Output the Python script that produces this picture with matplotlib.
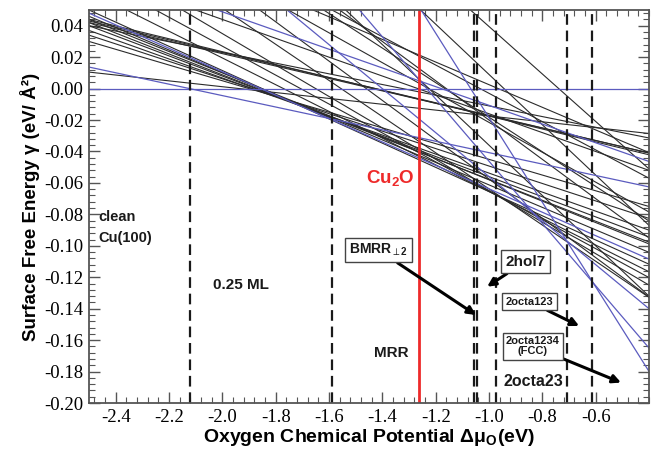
import numpy as np
import matplotlib
matplotlib.use("Agg")
import matplotlib.pyplot as plt
from matplotlib.ticker import MultipleLocator, FixedLocator

plt.rcParams['axes.unicode_minus'] = False
plt.rcParams['mathtext.fontset'] = 'custom'
plt.rcParams['mathtext.rm'] = 'Liberation Sans'
plt.rcParams['mathtext.bf'] = 'Liberation Sans:bold'
plt.rcParams['mathtext.it'] = 'Liberation Sans:italic'

# ---- data: surface free energy lines  gamma(mu) = gamma_ref + slope*(mu - mu_ref)
mu_ref = -2.5
blue_gamma_ref = [0.0, 0.0137, 0.048, 0.0786, 0.385, 0.2508, 0.154]
blue_slope     = [0.0, -0.0363, -0.0745, -0.0595, -0.269, -0.198, -0.140]
black_gamma_ref = [0.0105, 0.040, 0.042, 0.043, 0.044,
                   0.030, 0.034, 0.037, 0.040, 0.042, 0.044, 0.046,
                   0.050, 0.062, 0.073, 0.085, 0.1087, 0.130,
                   0.074, 0.1105, 0.1468, 0.132, 0.1675, 0.204, 0.249, 0.266, 0.121]
black_slope     = [-0.0186, -0.034, -0.0395, -0.040, -0.041,
                   -0.050, -0.0555, -0.0605, -0.064, -0.0665, -0.068, -0.0715,
                   -0.077, -0.085, -0.092, -0.100, -0.115, -0.125,
                   -0.060, -0.072, -0.110, -0.090, -0.125, -0.160, -0.160, -0.151, -0.095]

phase_boundaries = [-2.123, -1.589, -1.058, -1.046, -0.972, -0.706, -0.612]
cu2o_mu = -1.262

x_ticks = [-2.4, -2.2, -2.0, -1.8, -1.6, -1.4, -1.2, -1.0, -0.8, -0.6]
y_ticks = [-0.20, -0.18, -0.16, -0.14, -0.12, -0.10, -0.08, -0.06, -0.04, -0.02, 0.00, 0.02, 0.04]

fig = plt.figure(figsize=(6.57, 4.53), dpi=100)
ax = fig.add_axes([89/657, 1-403/453, 560/657, 393/453])
ax.set_xlim(-2.5, -0.4)
ax.set_ylim(-0.20, 0.05)

mu = np.linspace(-2.5, -0.4, 200)
black_col = '#2b2b2b'
blue_col = '#5b5bbf'
for g, s in zip(black_gamma_ref, black_slope):
    ax.plot(mu, g + s*(mu - mu_ref), color=black_col, lw=0.8)
for g, s in zip(blue_gamma_ref, blue_slope):
    ax.plot(mu, g + s*(mu - mu_ref), color=blue_col, lw=0.9)

for xb in phase_boundaries:
    ax.axvline(xb, color='#1a1a1a', lw=1.6, ls=(0, (4.8, 2.6)))
ax.axvline(cu2o_mu, color='#ee2a2a', lw=2.0)

# ticks
ax.xaxis.set_major_locator(FixedLocator(x_ticks))
ax.yaxis.set_major_locator(FixedLocator(y_ticks))
ax.xaxis.set_minor_locator(MultipleLocator(0.04))
ax.yaxis.set_minor_locator(MultipleLocator(0.004))
ax.set_xticklabels([f'{v:.1f}' for v in x_ticks], fontfamily='Liberation Serif', fontsize=13.5)
ax.set_yticklabels([f'{v:.2f}' for v in y_ticks], fontfamily='Liberation Serif', fontsize=13.5)
ax.tick_params(which='both', direction='in', top=True, right=True, color='#555555')
ax.tick_params(which='major', length=8, width=1.0, pad=4)
ax.tick_params(which='minor', length=4, width=0.8)
for sp in ax.spines.values():
    sp.set_color('#555555')
    sp.set_linewidth(1.3)

ax.set_xlabel(r'Oxygen Chemical Potential Δμ$_\mathbf{O}$(eV)', fontfamily='Liberation Sans',
              fontweight='bold', fontsize=14, labelpad=1)
ax.set_ylabel('Surface Free Energy γ (eV/ Å²)', fontfamily='Liberation Sans',
              fontweight='bold', fontsize=13.5, labelpad=3)

tkw = dict(fontfamily='Liberation Sans', fontweight='bold', color='#1a1a1a')
ax.text(-2.465, -0.0817, 'clean', fontsize=10.5, va='center', **tkw)
ax.text(-2.465, -0.095, 'Cu(100)', fontsize=10.5, va='center', **tkw)
ax.text(-2.036, -0.125, '0.25 ML', fontsize=11, va='center', **tkw)
ax.text(-1.43, -0.168, 'MRR', fontsize=11, va='center', **tkw)
ax.text(-0.944, -0.1865, '2octa23', fontsize=11.5, va='center', **tkw)
ax.text(-1.28, -0.057, r'Cu$_\mathbf{2}$O', fontsize=13.5, va='center', ha='right',
        fontfamily='Liberation Sans', fontweight='bold', color='#ee2a2a')

box = dict(boxstyle='square,pad=0.3', fc='white', ec='#444444', lw=1.0)
arr = dict(arrowstyle='-|>', lw=2.2, color='black', mutation_scale=12, shrinkA=0, shrinkB=0)
ax.annotate(r'BMRR$_{\perp\mathbf{2}}$', xy=(-1.049, -0.144), xytext=(-1.415, -0.1027),
            ha='center', va='center', fontsize=10, bbox=box, arrowprops=arr, **tkw)
ax.annotate('2hol7', xy=(-1.007, -0.126), xytext=(-0.864, -0.110),
            ha='center', va='center', fontsize=11, bbox=box, arrowprops=arr, **tkw)
ax.annotate('2octa123', xy=(-0.662, -0.151), xytext=(-0.848, -0.1355),
            ha='center', va='center', fontsize=8, bbox=box, arrowprops=arr, **tkw)
ax.annotate('2octa1234\n(FCC)', xy=(-0.505, -0.187), xytext=(-0.835, -0.164),
            ha='center', va='center', fontsize=8, bbox=box, arrowprops=arr,
            linespacing=1.0, **tkw)

fig.savefig('out.png', dpi=100)
